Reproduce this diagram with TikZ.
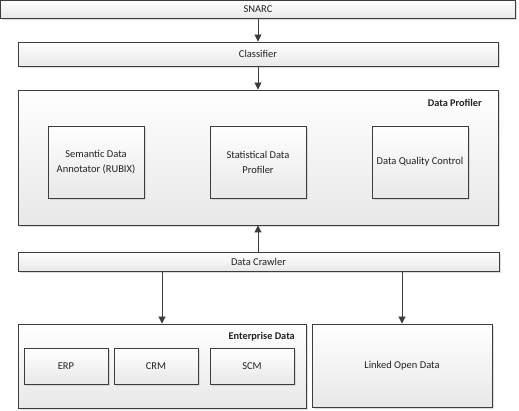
\documentclass[tikz,border=0pt]{standalone}
\usepackage{fontspec}
\setmainfont{Carlito}
\usetikzlibrary{arrows.meta,shadows}
\definecolor{edge}{HTML}{3C3C3C}
\definecolor{txt}{HTML}{222222}
\tikzset{
  box/.style={draw=edge, line width=0.9pt, top color=white, bottom color=black!9,
    drop shadow={shadow xshift=1.6pt, shadow yshift=-1.6pt, fill=black!22, opacity=0.6},
    text=txt, font=\fontsize{10.5}{15}\selectfont, align=center, inner sep=0pt},
  lbl/.style={text=txt, font=\fontsize{10.3}{12}\selectfont\bfseries, inner sep=0pt},
  conn/.style={draw=edge, line width=0.9pt, -{Triangle[width=7pt,length=7pt]}}
}
\begin{document}
\begin{tikzpicture}[x=1pt,y=-1pt]
\useasboundingbox (0,0) rectangle (519,411);
\node[box, minimum width=515pt, minimum height=18pt] (snarc) at (258,9) {SNARC};
\node[box, minimum width=480pt, minimum height=24pt] (cls) at (258,54) {Classifier};
\node[box, minimum width=480pt, minimum height=135pt] (dp) at (258,157.5) {};
\node[lbl, anchor=east] (dplbl) at (482,103) {Data Profiler};
\node[box, minimum width=96pt, minimum height=72pt] (sem) at (96,162) {Semantic Data\\Annotator (RUBIX)};
\node[box, minimum width=96pt, minimum height=72pt] (stat) at (258,162) {Statistical Data\\Profiler};
\node[box, minimum width=96pt, minimum height=72pt] (dqc) at (420,162) {Data Quality Control};
\node[box, minimum width=481pt, minimum height=19pt] (crawl) at (258.5,261.5) {Data Crawler};
\node[box, minimum width=288pt, minimum height=84pt] (ent) at (162,366) {};
\node[lbl, anchor=east] (entlbl) at (295,337) {Enterprise Data};
\node[box, minimum width=84pt, minimum height=36pt] (erp) at (66,366) {ERP};
\node[box, minimum width=84pt, minimum height=36pt] (crm) at (156,366) {CRM};
\node[box, minimum width=84pt, minimum height=36pt] (scm) at (252,366) {SCM};
\node[box, minimum width=180pt, minimum height=83pt] (lod) at (402,365.5) {Linked Open Data};
\draw[conn] (snarc.south) -- (cls.north);
\draw[conn] (cls.south) -- (dp.north);
\draw[conn] (crawl.north -| dp.south) -- (dp.south);
\draw[conn] (crawl.south -| ent.north) -- (ent.north);
\draw[conn] (crawl.south -| lod.north) -- (lod.north);
\end{tikzpicture}
\end{document}
